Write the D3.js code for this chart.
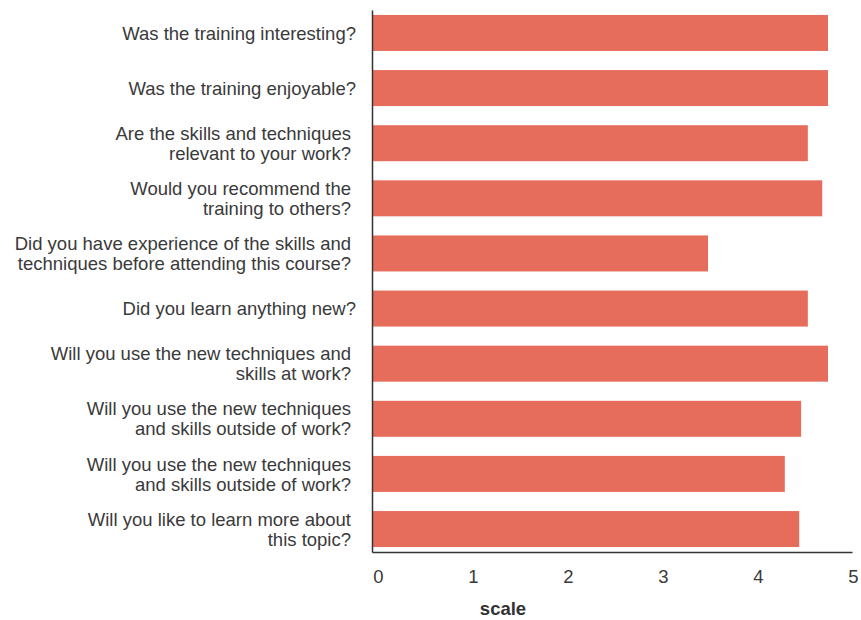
<!DOCTYPE html>
<html>
<head>
<meta charset="utf-8">
<script src="https://cdn.jsdelivr.net/npm/d3@7"></script>
<style>
  body { margin: 0; background: #fff; }
  text { font-family: "Liberation Sans", Arial, sans-serif; }
</style>
</head>
<body>
<div id="chart"></div>
<script>
// survey questions, one per bar (line breaks as in the original)
const questions = [
  ["Was the training interesting?"],
  ["Was the training enjoyable?"],
  ["Are the skills and techniques", "relevant to your work?"],
  ["Would you recommend the", "training to others?"],
  ["Did you have experience of the skills and", "techniques before attending this course?"],
  ["Did you learn anything new?"],
  ["Will you use the new techniques and", "skills at work?"],
  ["Will you use the new techniques", "and skills outside of work?"],
  ["Will you use the new techniques", "and skills outside of work?"],
  ["Will you like to learn more about", "this topic?"]
];
const scores = [4.75, 4.75, 4.54, 4.69, 3.50, 4.54, 4.75, 4.47, 4.30, 4.45];
const xTicks = [0, 1, 2, 3, 4, 5];

const fontSize = "18.5px";
const textColor = "#3a3a3a";

const margin = {top: 10, right: 9, bottom: 68, left: 372},
    width = 861 - margin.left - margin.right,
    height = 620 - margin.top - margin.bottom;

const svg = d3.select("#chart")
  .append("svg")
    .attr("width", 861)
    .attr("height", 620)
  .append("g")
    .attr("transform", `translate(${margin.left},${margin.top})`);

const idx = d3.range(scores.length);

const x = d3.scaleLinear()
  .domain([0, 5])
  .range([0, width]);

const y = d3.scaleBand()
  .domain(idx)
  .range([0, height])
  .paddingInner(0.347)
  .paddingOuter(0.09);

// bars
svg.append("g")
  .selectAll("rect")
  .data(idx)
  .join("rect")
    .attr("x", x(0))
    .attr("y", i => y(i))
    .attr("width", i => x(scores[i]) - x(0))
    .attr("height", y.bandwidth())
    .attr("fill", "#e66c5c");

// question labels
const lab = svg.append("g")
  .selectAll("text")
  .data(idx)
  .join("text")
    .attr("text-anchor", "end")
    .attr("fill", textColor)
    .style("font-size", fontSize)
    .attr("transform", i => {
      const n = questions[i].length;
      const cy = y(i) + y.bandwidth() / 2 - (n - 1) * 10;
      return `translate(${n > 1 ? -21 : -16},${cy})`;
    });
lab.selectAll("tspan")
  .data(i => questions[i])
  .join("tspan")
    .attr("x", 0)
    .attr("y", (d, j) => j * 20)
    .attr("dy", "0.36em")
    .text(d => d);

// y axis line
svg.append("g")
  .call(d3.axisLeft(y).tickSize(0).tickFormat(""))
  .call(g => g.select(".domain").attr("stroke", "#333").attr("stroke-width", 1.5));

// x axis
svg.append("g")
  .attr("transform", `translate(0,${height})`)
  .call(d3.axisBottom(x).tickValues(xTicks).tickFormat(d3.format("d"))
    .tickSize(0).tickPadding(18).tickSizeOuter(0))
  .call(g => g.select(".domain").attr("stroke", "#333").attr("stroke-width", 1.5))
  .call(g => g.selectAll(".tick text")
    .attr("fill", textColor)
    .attr("dx", d => 6 - d)
    .style("font-size", fontSize)
    .style("font-family", "'Liberation Sans', Arial, sans-serif"));

// axis title
svg.append("text")
  .attr("x", 131)
  .attr("y", height + 63)
  .attr("text-anchor", "middle")
  .attr("fill", "#333")
  .style("font-size", fontSize)
  .style("font-weight", "bold")
  .text("scale");
</script>
</body>
</html>
